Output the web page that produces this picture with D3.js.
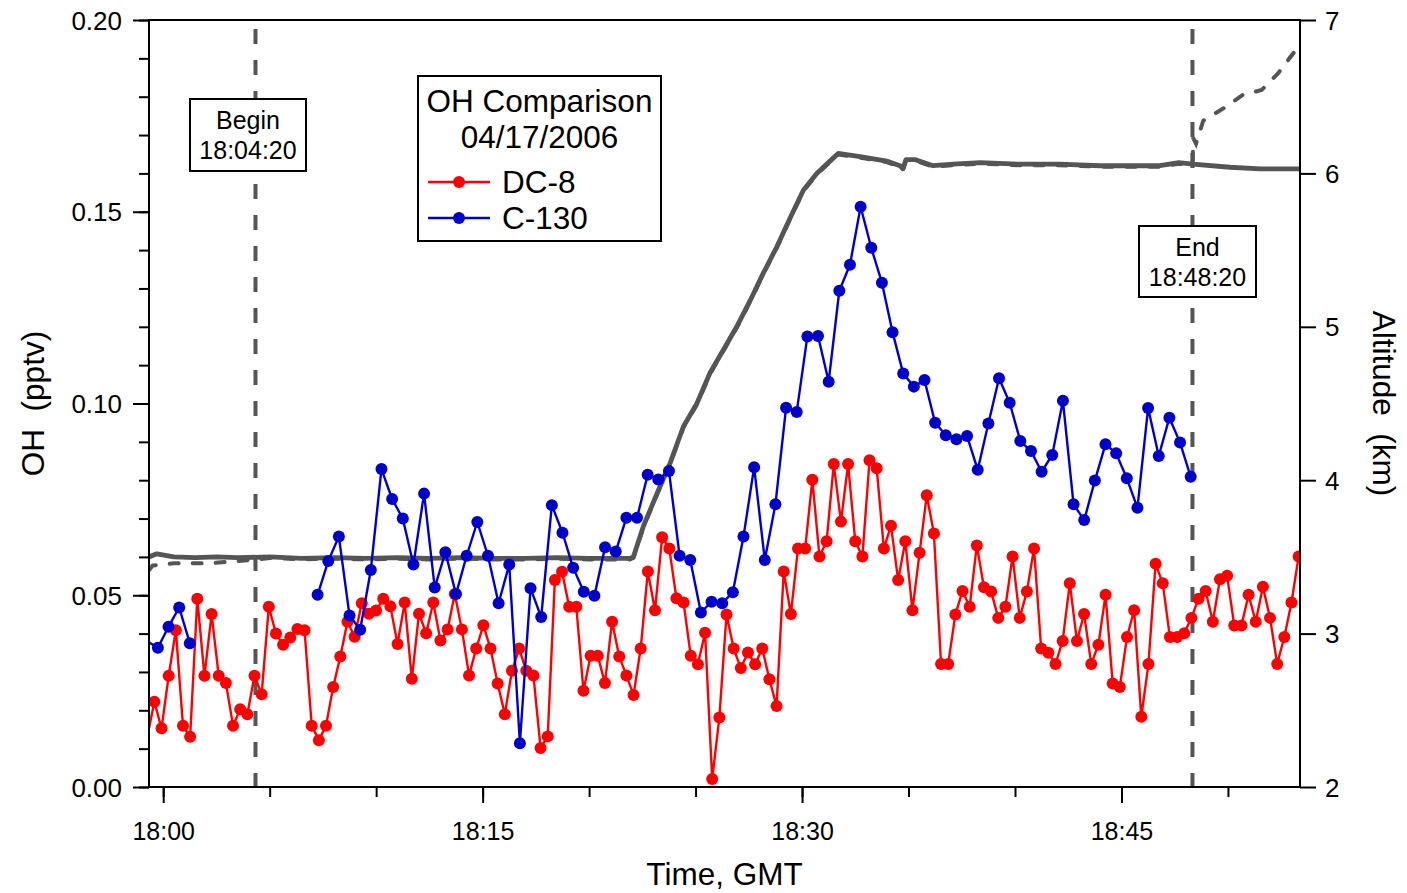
<!DOCTYPE html>
<html><head><meta charset="utf-8">
<script src="https://cdn.jsdelivr.net/npm/d3@7"></script>
<style>
body{margin:0;background:#fff}
svg{display:block}
text{font-family:"Liberation Sans",Arial,Helvetica,sans-serif;fill:#000}
</style>
</head><body>
<svg id="chart" width="1407" height="893"></svg>
<script>
// ---------------- DATA ----------------
const flightDate = "2006-04-17";
const domainStart = "17:59:20";
const domainEnd = "18:53:23";

// DC-8 OH (pptv), ~20 s samples starting at dc8Start
const dc8Start = "17:59:15";
const dc8StepSec = 20.15;
const dc8OH = [0.013,
 0.0222,0.0153,0.0290,0.0409,0.0160,0.0131,0.0491,0.0290,0.0451,0.0290,
 0.0271,0.0160,0.0203,0.0190,0.0290,0.0242,0.0470,0.0400,0.0371,0.0390,
 0.0412,0.0409,0.0160,0.0122,0.0160,0.0261,0.0340,0.0431,0.0392,0.0479,
 0.0452,0.0460,0.0491,0.0471,0.0373,0.0481,0.0282,0.0452,0.0401,0.0481,
 0.0382,0.0411,0.0503,0.0411,0.0291,0.0361,0.0422,0.0361,0.0270,0.0190,
 0.0303,0.0361,0.0303,0.0291,0.0102,0.0132,0.0540,0.0561,0.0470,0.0470,
 0.0251,0.0342,0.0342,0.0271,0.0431,0.0340,0.0291,0.0240,0.0361,0.0562,
 0.0461,0.0651,0.0622,0.0492,0.0481,0.0342,0.0320,0.0402,0.0021,0.0181,
 0.0450,0.0361,0.0310,0.0351,0.0320,0.0361,0.0281,0.0211,0.0562,0.0451,
 0.0622,0.0622,0.0801,0.0601,0.0641,0.0842,0.0692,0.0842,0.0641,0.0601,
 0.0852,0.0831,0.0622,0.0681,0.0540,0.0641,0.0461,0.0611,0.0761,0.0661,
 0.0321,0.0321,0.0450,0.0511,0.0470,0.0630,0.0521,0.0510,0.0441,0.0470,
 0.0601,0.0441,0.0510,0.0622,0.0361,0.0350,0.0321,0.0381,0.0531,0.0381,
 0.0451,0.0321,0.0371,0.0501,0.0270,0.0261,0.0391,0.0461,0.0183,0.0321,
 0.0582,0.0531,0.0391,0.0391,0.0401,0.0441,0.0491,0.0511,0.0431,0.0542,
 0.0551,0.0421,0.0421,0.0501,0.0431,0.0522,0.0441,0.0321,0.0391,0.0481,
 0.0601];

// C-130 OH (pptv), 30 s samples starting at c130Start (null = no data)
const c130Start = "17:59:15";
const c130StepSec = 30;
const c130OH = [0.038,
 0.0363,0.0418,0.0468,0.0375,
 null,null,null,null,null,null,null,null,null,null,null,
 0.0501,0.0589,0.0653,0.0447,0.0410,0.0566,0.0829,0.0751,0.0700,0.0580,
 0.0765,0.0520,0.0612,0.0503,0.0603,0.0691,0.0603,0.0479,0.0580,0.0114,
 0.0518,0.0443,0.0735,0.0663,0.0572,0.0509,0.0499,0.0625,0.0614,0.0702,
 0.0702,0.0814,0.0802,0.0824,0.0603,0.0592,0.0455,0.0483,0.0479,0.0508,
 0.0653,0.0834,0.0592,0.0737,0.0989,0.0978,0.1175,0.1176,0.1057,0.1294,
 0.1362,0.1513,0.1406,0.1315,0.1186,0.1078,0.1044,0.1061,0.0950,0.0917,
 0.0907,0.0915,0.0827,0.0948,0.1066,0.1002,0.0902,0.0876,0.0822,0.0866,
 0.1007,0.0737,0.0696,0.0799,0.0894,0.0870,0.0805,0.0728,0.0988,0.0863,
 0.0963,0.0898,0.0809];

// DC-8 altitude (km); time in minutes after 18:00 GMT
const dc8AltMin = [-0.66,-0.3,0.5,1.5,2.5,3.5,5,6.5,8,9.5,11,12.5,14,15.5,17,18.5,20,21.3,21.92,22.08,
 22.55,23.18,23.80,24.43,25.06,25.68,26.31,26.93,27.56,28.18,28.81,29.44,30.06,30.69,31.31,31.70,
 32.72,33.98,34.60,34.74,34.88,35.3,36.15,37.09,38.36,40.2,42.1,44.0,46.8,47.7,48.35,50.1,51.5,53.38];
const dc8AltKm = [3.50,3.52,3.50,3.495,3.50,3.495,3.50,3.49,3.495,3.49,3.495,3.49,3.495,3.49,3.49,3.495,3.49,3.49,3.49,3.50,
 3.70,3.91,4.11,4.35,4.50,4.70,4.85,5.00,5.17,5.35,5.52,5.71,5.89,6.00,6.08,6.13,
 6.11,6.08,6.05,6.03,6.09,6.09,6.05,6.06,6.07,6.06,6.06,6.05,6.05,6.07,6.06,6.04,6.03,6.03];

// C-130 altitude (km): before and after the segment where it follows the DC-8 track
const c130AltHeadMin = [-0.66,-0.5,0.5,1.5,2.2,3.5,4.5];
const c130AltHeadKm  = [3.42,3.45,3.465,3.465,3.465,3.48,3.49];
const c130AltTailMin = [48.22,48.35,48.36,48.5,48.84,49.78,50.72,51.58,52.36,53.07,53.38];
const c130AltTailKm  = [6.06,6.09,6.24,6.20,6.35,6.43,6.52,6.55,6.66,6.79,6.83];

const markers = [
  {title:"Begin", time:"18:04:20"},
  {title:"End",   time:"18:48:20"}
];
const legendTitle = ["OH Comparison","04/17/2006"];
const seriesNames = ["DC-8","C-130"];
const ohTicks = [0,0.05,0.10,0.15,0.20];
const altTicks = [2,3,4,5,6,7];

// ---------------- LAYOUT ----------------
const W = 1407, H = 893;
const L = 149, R = 1300, T = 20, B = 787;
const red = "#ff0000", blue = "#0000cc", gray = "#555555";
const dotR = 6, lineW = 2.4;

const parse = s => d3.utcParse("%Y-%m-%d %H:%M:%S")(flightDate + " " + s);
const t0 = parse("18:00:00");
const x = d3.scaleUtc().domain([parse(domainStart), parse(domainEnd)]).range([L, R]);
const yL = d3.scaleLinear().domain([0, 0.20]).range([B, T]);
const yR = d3.scaleLinear().domain([2, 7]).range([B, T]);

const svg = d3.select("#chart");
svg.append("rect").attr("width", W).attr("height", H).attr("fill", "#fff");

svg.append("defs").append("clipPath").attr("id", "plotclip")
  .append("rect").attr("x", L).attr("y", T).attr("width", R - L).attr("height", B - T);

const plot = svg.append("g").attr("clip-path", "url(#plotclip)");

// Begin/End vertical dashed lines
markers.forEach(m => {
  const xm = x(parse(m.time));
  plot.append("line").attr("x1", xm).attr("x2", xm).attr("y1", B + 1).attr("y2", T)
    .attr("stroke", gray).attr("stroke-width", 4).attr("stroke-dasharray", "15,16");
});

// altitude traces
const minToDate = m => new Date(t0.getTime() + m * 60000);
const dc8Alt = dc8AltMin.map((m, i) => ({t: minToDate(m), v: dc8AltKm[i]}));
const c130Alt = c130AltHeadMin.map((m, i) => ({t: minToDate(m), v: c130AltHeadKm[i]}))
  .concat(dc8Alt.filter(d => d.t > minToDate(4.6) && d.t < minToDate(48.2)))
  .concat(c130AltTailMin.map((m, i) => ({t: minToDate(m), v: c130AltTailKm[i]})));

const altLine = d3.line().x(d => x(d.t)).y(d => yR(d.v)).curve(d3.curveLinear);
plot.append("path").datum(c130Alt).attr("d", altLine).attr("fill", "none")
  .attr("stroke", gray).attr("stroke-width", 4).attr("stroke-dasharray", "9,14")
  .attr("stroke-linecap", "round").attr("transform", "translate(0,1)");
plot.append("path").datum(dc8Alt).attr("d", altLine).attr("fill", "none")
  .attr("stroke", gray).attr("stroke-width", 4.8).attr("stroke-linejoin", "round");

// OH series
function series(values, start, step) {
  const s = parse(start).getTime();
  return values.map((v, i) => ({t: new Date(s + i * step * 1000), v}));
}
const dc8 = series(dc8OH, dc8Start, dc8StepSec);
const c130 = series(c130OH, c130Start, c130StepSec);
const ohLine = d3.line().defined(d => d.v != null).x(d => x(d.t)).y(d => yL(d.v));
const [dMin, dMax] = x.domain();

function drawSeries(data, color) {
  plot.append("path").datum(data).attr("d", ohLine).attr("fill", "none")
    .attr("stroke", color).attr("stroke-width", lineW).attr("stroke-linejoin", "round");
  plot.append("g").selectAll("circle")
    .data(data.filter(d => d.v != null && d.t >= dMin && d.t <= dMax)).join("circle")
    .attr("cx", d => x(d.t)).attr("cy", d => yL(d.v)).attr("r", dotR).attr("fill", color);
}
drawSeries(dc8, red);
drawSeries(c130, blue);

// marker boxes
const boxes = [{x: 190, y: 99, w: 116, h: 72}, {x: 1139, y: 226, w: 117, h: 71}];
markers.forEach((m, i) => {
  const b = boxes[i];
  svg.append("rect").attr("x", b.x).attr("y", b.y).attr("width", b.w).attr("height", b.h)
    .attr("fill", "#fff").attr("stroke", "#000").attr("stroke-width", 2);
  svg.append("text").attr("x", b.x + b.w / 2).attr("y", b.y + 30).attr("text-anchor", "middle")
    .attr("font-size", 25).text(m.title);
  svg.append("text").attr("x", b.x + b.w / 2).attr("y", b.y + 59.5).attr("text-anchor", "middle")
    .attr("font-size", 25).text(m.time);
});

// legend
const lg = svg.append("g");
lg.append("rect").attr("x", 418).attr("y", 76).attr("width", 243).attr("height", 165)
  .attr("fill", "#fff").attr("stroke", "#000").attr("stroke-width", 2);
lg.append("text").attr("x", 539.5).attr("y", 112).attr("text-anchor", "middle").attr("font-size", 31.5).text(legendTitle[0]);
lg.append("text").attr("x", 539.5).attr("y", 148).attr("text-anchor", "middle").attr("font-size", 31.5).text(legendTitle[1]);
[red, blue].forEach((c, i) => {
  const yy = 182 + i * 36;
  lg.append("line").attr("x1", 428).attr("x2", 490).attr("y1", yy).attr("y2", yy).attr("stroke", c).attr("stroke-width", lineW);
  lg.append("circle").attr("cx", 459).attr("cy", yy).attr("r", dotR).attr("fill", c);
  lg.append("text").attr("x", 502).attr("y", yy + 11).attr("font-size", 31.5).text(seriesNames[i]);
});

// axes
const axStyle = g => {
  g.selectAll("path,line").attr("stroke", "#000").attr("stroke-width", 2);
  g.selectAll("text").attr("font-size", 25).attr("fill", "#000");
};
// bottom
svg.append("g").attr("transform", `translate(0,${B})`)
  .call(d3.axisBottom(x).ticks(d3.utcMinute.every(5)).tickSize(10).tickSizeOuter(0).tickFormat(""))
  .call(axStyle).call(g => g.select(".domain").remove());
svg.append("g").attr("transform", `translate(0,${B})`)
  .call(d3.axisBottom(x).ticks(d3.utcMinute.every(15)).tickSize(16).tickSizeOuter(0).tickFormat(d3.utcFormat("%H:%M")))
  .call(axStyle).call(g => g.select(".domain").remove())
  .call(g => g.selectAll("text").attr("y", 53).attr("dy", 0));
// left
svg.append("g").attr("transform", `translate(${L},0)`)
  .call(d3.axisLeft(yL).ticks(20).tickSize(10).tickSizeOuter(0).tickFormat(""))
  .call(axStyle).call(g => g.select(".domain").remove());
svg.append("g").attr("transform", `translate(${L},0)`)
  .call(d3.axisLeft(yL).tickValues(ohTicks).tickSize(16).tickSizeOuter(0).tickFormat(d3.format(".2f")))
  .call(axStyle).call(g => g.select(".domain").remove())
  .call(g => g.selectAll("text").attr("x", -27).attr("dy", "0.35em").attr("font-size", 26));
// right
svg.append("g").attr("transform", `translate(${R},0)`)
  .call(d3.axisRight(yR).tickValues(altTicks).tickSize(16).tickSizeOuter(0).tickFormat(d3.format("d")))
  .call(axStyle).call(g => g.select(".domain").remove())
  .call(g => g.selectAll("text").attr("x", 25).attr("dy", "0.35em").attr("font-size", 26));

// frame
svg.append("rect").attr("x", L).attr("y", T).attr("width", R - L).attr("height", B - T)
  .attr("fill", "none").attr("stroke", "#000").attr("stroke-width", 2);

// axis titles
svg.append("text").attr("x", (L + R) / 2).attr("y", 885).attr("text-anchor", "middle")
  .attr("font-size", 31.5).text("Time, GMT");
svg.append("text").attr("transform", `translate(44,${(T + B) / 2}) rotate(-90)`).attr("text-anchor", "middle")
  .attr("font-size", 31.5).style("white-space", "pre").text("OH  (pptv)");
svg.append("text").attr("transform", `translate(1373,${(T + B) / 2}) rotate(90)`).attr("text-anchor", "middle")
  .attr("font-size", 31.5).style("white-space", "pre").text("Altitude  (km)");
</script>
</body></html>
